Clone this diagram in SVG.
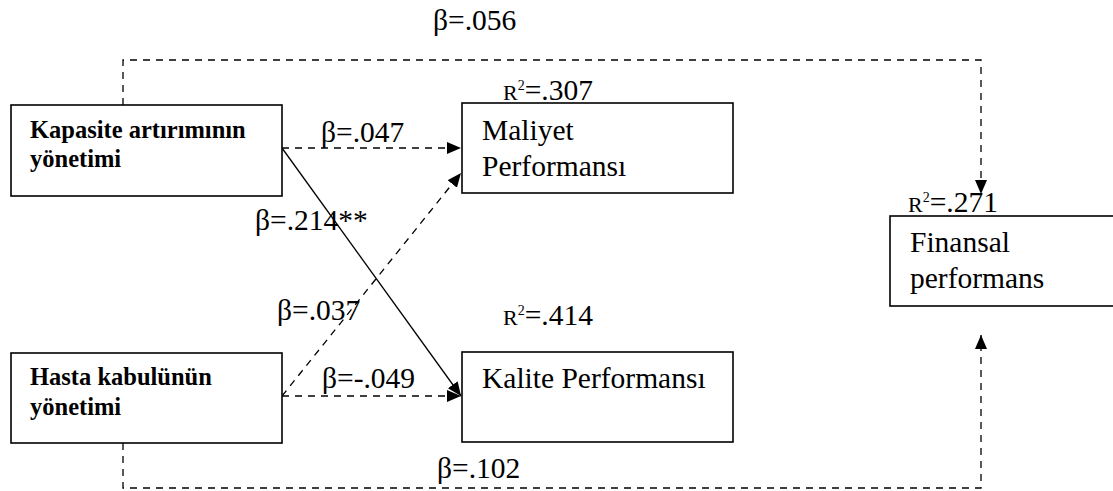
<svg xmlns="http://www.w3.org/2000/svg" width="1113" height="491" viewBox="0 0 1113 491" font-family="'Liberation Serif', Tinos, 'Times New Roman', Times, 'DejaVu Serif', serif">
  <style>
    .box { fill: #fff; stroke: #000; stroke-width: 1.6; }
    text { font-family: "Liberation Serif", Tinos, "Times New Roman", Times, "DejaVu Serif", serif; fill: #000; }
    .t { font-size: 29.5px; }
    .b { font-size: 24.5px; font-weight: bold; }
    .r { font-size: 22px; }
    .sup { font-size: 14px; }
    .ln { fill: none; stroke: #000; stroke-width: 1.3; }
    .dash { stroke-dasharray: 7 6; }
  </style>
  <defs>
    <marker id="arrow" markerUnits="userSpaceOnUse" markerWidth="15" markerHeight="13" refX="14" refY="6" orient="auto">
      <path d="M0,0 L14,6 L0,12 z" fill="#000"/>
    </marker>
  </defs>
  <rect width="1113" height="491" fill="#fff"/>

  <!-- paths between the constructs -->
  <g id="connectors">
    <path class="ln dash" d="M123,105 V60 H981 V194" marker-end="url(#arrow)"/>
    <path class="ln dash" d="M123,443 V488 H981 V335" marker-end="url(#arrow)"/>
    <path class="ln dash" d="M282,148 L461,148" marker-end="url(#arrow)"/>
    <path class="ln" d="M282,148 L461,396" marker-end="url(#arrow)"/>
    <path class="ln dash" d="M282,396 L461,173" marker-end="url(#arrow)"/>
    <path class="ln dash" d="M282,396 L461,396" marker-end="url(#arrow)"/>
  </g>

  <!-- path coefficients -->
  <g id="labels">
    <text class="t" x="433" y="30">β=.056</text>
    <text class="t" x="321" y="142">β=.047</text>
    <text class="t" x="255" y="230">β=.214**</text>
    <text class="t" x="277" y="320">β=.037</text>
    <text class="t" x="322" y="388">β=-.049</text>
    <text class="t" x="437" y="478">β=.102</text>
  </g>

  <g id="kapasite">
    <rect class="box" x="11" y="105" width="271" height="91"/>
    <text class="b" x="30" y="138">Kapasite artırımının</text>
    <text class="b" x="30" y="167">yönetimi</text>
  </g>

  <g id="hasta">
    <rect class="box" x="11" y="353" width="271" height="90"/>
    <text class="b" x="30" y="385">Hasta kabulünün</text>
    <text class="b" x="30" y="415">yönetimi</text>
  </g>

  <g id="maliyet">
    <text class="t" x="503" y="100"><tspan class="r">R</tspan><tspan class="sup" dy="-10">2</tspan><tspan dy="10">=.307</tspan></text>
    <rect class="box" x="462" y="103" width="271" height="90"/>
    <text class="t" x="482" y="140">Maliyet</text>
    <text class="t" x="482" y="176">Performansı</text>
  </g>

  <g id="kalite">
    <text class="t" x="503" y="325"><tspan class="r">R</tspan><tspan class="sup" dy="-10">2</tspan><tspan dy="10">=.414</tspan></text>
    <rect class="box" x="462" y="352" width="271" height="90"/>
    <text class="t" x="482" y="388">Kalite Performansı</text>
  </g>

  <g id="finansal">
    <text class="t" x="908" y="212"><tspan class="r">R</tspan><tspan class="sup" dy="-10">2</tspan><tspan dy="10">=.271</tspan></text>
    <rect class="box" x="890" y="216" width="250" height="90"/>
    <text class="t" x="910" y="252">Finansal</text>
    <text class="t" x="910" y="288">performans</text>
  </g>
</svg>
